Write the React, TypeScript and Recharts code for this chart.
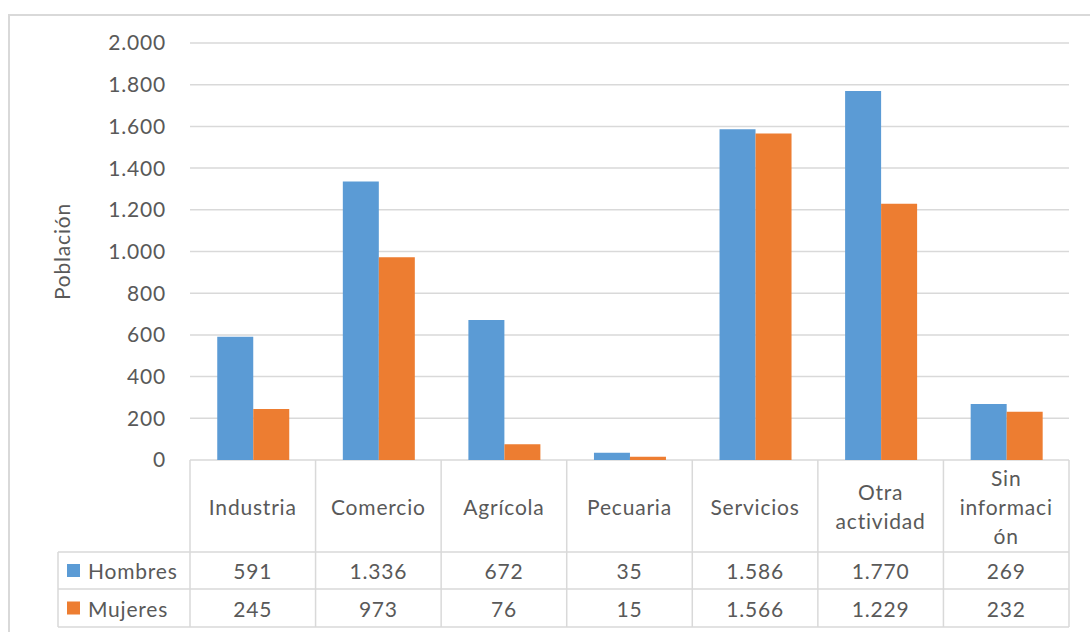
import React from 'react';
import { BarChart, Bar, XAxis, YAxis, CartesianGrid } from 'recharts';

const categorias = ['Industria', 'Comercio', 'Agrícola', 'Pecuaria', 'Servicios', 'Otra actividad', 'Sin información'];
// etiquetas partidas en líneas como aparecen en la tabla de datos
const etiquetas = [['Industria'], ['Comercio'], ['Agrícola'], ['Pecuaria'], ['Servicios'], ['Otra', 'actividad'], ['Sin', 'informaci', 'ón']];
const hombres = [591, 1336, 672, 35, 1586, 1770, 269];
const mujeres = [245, 973, 76, 15, 1566, 1229, 232];
const yTicks = [0, 200, 400, 600, 800, 1000, 1200, 1400, 1600, 1800, 2000];

const AZUL = '#5B9BD5';
const NARANJA = '#ED7D31';
const TEXTO = '#595959';
const LINEA = '#D9D9D9';
const FUENTE = 'Lato, "Open Sans", sans-serif';
const TAM = 21;
const ESP = 0.8;

const W = 1090;
const H = 632;
const PLOT_LEFT = 190;
const PLOT_RIGHT = 1069;
const PLOT_TOP = 43;
const PLOT_BOTTOM = 460;
const FILA_CAT = 552;
const FILA_H = 589;
const FILA_M = 627;
const LEYENDA_X = 58;

const data = categorias.map((c, i) => ({ categoria: c, hombres: hombres[i], mujeres: mujeres[i] }));

const fmt = (v: number) => v.toLocaleString('de-DE');

const textoProps = { fill: TEXTO, fontSize: TAM, fontFamily: FUENTE, letterSpacing: ESP };

// cada tick del eje X dibuja su columna completa de la tabla de datos
const ColumnaTabla = ({ x, payload }: any) => {
  const i = payload.index;
  const band = (PLOT_RIGHT - PLOT_LEFT) / categorias.length;
  const left = x - band / 2;
  const right = x + band / 2;
  const lines = etiquetas[i];
  const lh = 29;
  const cy = (PLOT_BOTTOM + FILA_CAT) / 2;
  const y0 = cy - ((lines.length - 1) * lh) / 2;
  return (
    <g>
      <line x1={left} x2={left} y1={PLOT_BOTTOM} y2={FILA_M} stroke={LINEA} strokeWidth={1.5} />
      {i === categorias.length - 1 && (
        <line x1={right} x2={right} y1={PLOT_BOTTOM} y2={FILA_M} stroke={LINEA} strokeWidth={1.5} />
      )}
      {lines.map((t, k) => (
        <text key={k} x={x} y={y0 + k * lh} textAnchor="middle" dominantBaseline="central" {...textoProps}>{t}</text>
      ))}
      <text x={x} y={(FILA_CAT + FILA_H) / 2} textAnchor="middle" dominantBaseline="central" {...textoProps}>{fmt(hombres[i])}</text>
      <text x={x} y={(FILA_H + FILA_M) / 2} textAnchor="middle" dominantBaseline="central" {...textoProps}>{fmt(mujeres[i])}</text>
    </g>
  );
};

const Serie = ({ color, nombre, top, bottom }: { color: string; nombre: string; top: number; bottom: number }) => {
  const cy = (top + bottom) / 2;
  return (
    <g>
      <rect x={LEYENDA_X + 9} y={cy - 6.5} width={13} height={13} fill={color} />
      <text x={LEYENDA_X + 30} y={cy} dominantBaseline="central" {...textoProps}>{nombre}</text>
    </g>
  );
};

export default function App() {
  return (
    <div style={{ position: 'absolute', left: 0, top: 0, width: W, height: H, background: '#fff', overflow: 'hidden' }}>
      <div style={{ position: 'absolute', left: 8, top: 14, right: 0, bottom: 0, borderLeft: `2px solid ${LINEA}`, borderTop: `2px solid ${LINEA}` }} />
      <BarChart
        width={W}
        height={H}
        data={data}
        margin={{ top: PLOT_TOP, right: W - PLOT_RIGHT, bottom: 0, left: PLOT_LEFT - 100 }}
        barCategoryGap="21.7%"
        barGap={0}
        style={{ position: 'absolute', left: 0, top: 0 }}
      >
        <CartesianGrid vertical={false} stroke={LINEA} strokeWidth={1.5} />
        <XAxis
          dataKey="categoria"
          axisLine={false}
          tickLine={false}
          interval={0}
          height={H - PLOT_BOTTOM}
          tick={<ColumnaTabla />}
        />
        <YAxis
          width={100}
          domain={[0, 2000]}
          ticks={yTicks}
          interval={0}
          axisLine={false}
          tickLine={false}
          tickSize={0}
          tickMargin={24}
          tickFormatter={fmt}
          tick={textoProps}
          label={{ value: 'Población', angle: -90, position: 'insideLeft', offset: 0, dx: -27, ...textoProps, style: { textAnchor: 'middle' } }}
        />
        <Bar dataKey="hombres" name="Hombres" fill={AZUL} isAnimationActive={false} />
        <Bar dataKey="mujeres" name="Mujeres" fill={NARANJA} isAnimationActive={false} />
      </BarChart>
      <svg width={W} height={H} style={{ position: 'absolute', left: 0, top: 0, pointerEvents: 'none' }}>
        <line x1={LEYENDA_X} x2={PLOT_RIGHT} y1={FILA_CAT} y2={FILA_CAT} stroke={LINEA} strokeWidth={1.5} />
        <line x1={LEYENDA_X} x2={PLOT_RIGHT} y1={FILA_H} y2={FILA_H} stroke={LINEA} strokeWidth={1.5} />
        <line x1={LEYENDA_X} x2={PLOT_RIGHT} y1={FILA_M} y2={FILA_M} stroke={LINEA} strokeWidth={1.5} />
        <line x1={LEYENDA_X} x2={LEYENDA_X} y1={FILA_CAT} y2={FILA_M} stroke={LINEA} strokeWidth={1.5} />
        <Serie color={AZUL} nombre="Hombres" top={FILA_CAT} bottom={FILA_H} />
        <Serie color={NARANJA} nombre="Mujeres" top={FILA_H} bottom={FILA_M} />
      </svg>
    </div>
  );
}
